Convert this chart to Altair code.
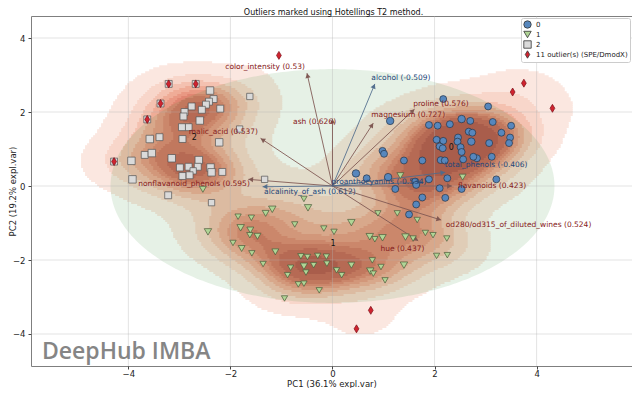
import math
import numpy as np
import pandas as pd
import altair as alt

alt.data_transformers.disable_max_rows()

# ---------------- text ----------------
TITLE = "Outliers marked using Hotellings T2 method."
X_TITLE = "PC1 (36.1% expl.var)"
Y_TITLE = "PC2 (19.2% expl.var)"
WATERMARK = "DeepHub IMBA"
TICKS = [-4, -2, 0, 2, 4]
GROUPS = ["0", "1", "2", "11 outlier(s) (SPE/DmodX)"]

# ---------------- class 0 (circles) ----------------
c0_x = [2.17, 3.05, 1.13, 2.53, 1.89, 2.06, 2.30, 2.70, 3.14, 3.50,
        3.31, 3.48, 3.46, 2.67, 2.74, 2.46, 2.72, 2.45, 2.04, 2.17,
        2.10, 2.16, 2.51, 2.53, 3.07, 2.83, 2.76, 3.12, 2.56, 0.98,
        1.01, 1.40, 1.76, 2.12, 2.20, 0.46, 0.67, 1.09, 1.62, 1.89,
        1.23, 2.25, 2.10, 2.53, 3.21, 2.21, 1.76, 1.64, 1.50, 1.64]
c0_y = [2.35, 2.15, 1.76, 1.81, 1.65, 1.63, 1.67, 1.76, 1.73, 1.63,
        1.44, 1.31, 1.16, 1.47, 1.44, 1.31, 1.20, 1.20, 1.25, 1.22,
        1.07, 1.02, 1.05, 0.92, 1.16, 0.75, 0.79, 0.79, 0.72, 0.95,
        0.87, 0.69, 0.69, 0.70, 0.69, 0.34, 0.21, 0.24, 0.12, 0.18,
        -0.08, 0.21, -0.06, -0.08, 0.18, -0.32, -0.31, -0.50, -0.77, 0.03]
c0_w = [2, 2, 3, 3, 2, 2, 2, 2, 2, 2,
        2, 2, 2, 2, 2, 2, 3, 2, 2, 2,
        2, 2, 2, 2, 2, 2, 2, 2, 2, 2,
        2, 2, 2, 2, 2, 3, 2, 3, 2, 2,
        2, 2, 2, 2, 2, 2, 2, 2, 2, 2]

# ---------------- class 1 (triangles) ----------------
c1_x = [-2.54, -2.44, -1.85, -1.59, -1.80, -1.61, -1.62, -1.47, -1.95, -1.78,
        -1.58, -1.36, -1.12, -1.31, -1.18, -0.74, -0.48, -0.56, -0.17, -0.88,
        -0.82, -0.67, -0.56, -0.94, -0.26, -0.62, -0.49, -0.29, -0.12, -0.56,
        -0.52, -0.37, -0.11, 0.03, 0.37, 0.89, 1.27, 1.66, 0.73, 0.83,
        0.98, 1.43, 1.58, 1.82, 1.97, 2.24, 2.04, 2.25, 0.78, 0.95,
        0.74, 0.80, 1.03, 1.40, 0.37, 0.08, 0.18, 1.33, 2.55]
c1_y = [-0.09, -1.24, -0.83, -0.86, -1.13, -1.19, -1.33, -1.36, -1.54, -1.69,
        -1.82, -2.11, -1.78, -0.74, -0.63, -1.04, -0.59, -0.35, -1.15, -2.41,
        -2.21, -2.66, -2.64, -3.04, -2.82, -1.90, -1.92, -1.89, -1.91, -2.17,
        -2.34, -2.14, -2.10, -1.24, -0.99, -0.74, -0.74, -0.92, -1.37, -1.44,
        -1.40, -1.38, -1.42, -1.27, -1.33, -1.42, -1.89, -1.87, -2.01, -2.19,
        -2.30, -2.37, -2.55, -2.14, -2.14, -2.28, -2.41, 0.28, 0.24]
c1_w = [2, 3, 1, 1, 3, 2, 1, 2, 1, 2,
        1, 1, 2, 2, 3, 1, 3, 1, 1, 1,
        1, 1, 1, 1, 1, 1, 1, 1, 1, 3,
        1, 1, 1, 1, 3, 1, 1, 1, 3, 1,
        3, 3, 1, 1, 1, 1, 1, 1, 1, 1,
        3, 1, 1, 3, 2, 1, 1, 2, 2]

# ---------------- class 2 (squares) ----------------
c2_x = [-2.40, -2.33, -2.42, -2.48, -2.56, -2.76, -2.90, -2.92, -2.20, -2.60,
        -2.82, -2.95, -2.94, -3.58, -3.39, -2.22, -1.62, -1.82, -3.68, -3.54,
        -3.94, -3.15, -2.62, -2.64, -2.82, -2.99, -2.39, -2.73, -2.94, -2.80,
        -2.37, -2.16, -3.92, -3.22, -2.37, -1.33, -3.21, -2.68, -3.37, -3.63, -4.28]
c2_y = [2.58, 2.35, 2.28, 2.20, 2.06, 2.15, 2.00, 1.88, 2.09, 1.77,
        1.59, 1.59, 1.27, 1.27, 1.32, 1.18, 2.42, 1.54, 0.84, 0.89,
        0.68, 0.75, 0.70, 0.52, 0.52, 0.50, 0.50, 0.41, 0.27, 0.29,
        0.37, 0.38, 0.18, -0.25, -0.45, 0.18, 2.76, 2.76, 2.23, 1.80, 0.66]
c2_w = [3, 2, 2, 2, 2, 2, 2, 2, 2, 3,
        2, 2, 2, 3, 2, 3, 1, 1, 2, 3,
        3, 3, 3, 2, 2, 2, 3, 1, 2, 2,
        3, 2, 3, 2, 1, 1, 2, 2, 2, 2, 2]

# ---------------- outliers ----------------
out_x = [-1.05, -3.21, -2.68, -3.37, -3.63, -4.28, 3.53, 3.75, 4.31, 0.75, 0.47]
out_y = [3.53, 2.76, 2.76, 2.23, 1.80, 0.66, 2.54, 2.78, 2.10, -3.36, -3.86]

# ---------------- loadings (arrows) ----------------
feat_label = ["color_intensity (0.53)", "alcohol (-0.509)", "proline (0.576)",
              "magnesium (0.727)", "ash (0.626)", "malic_acid (0.537)",
              "nonflavanoid_phenols (0.595)", "alcalinity_of_ash (0.612)",
              "proanthocyanins (-0.534)", "total_phenols (-0.406)",
              "flavanoids (0.423)", "od280/od315_of_diluted_wines (0.524)",
              "hue (0.437)"]
feat_tip_x = [-0.50, 0.83, 1.61, 0.80, 0.00, -1.41, -1.65, -1.37, 1.78, 2.21, 2.34, 2.13, 1.68]
feat_tip_y = [3.05, 2.76, 2.08, 1.70, 1.82, 1.29, 0.18, -0.02, 0.10, 0.37, 0.00, -0.92, -1.48]
feat_lab_x = [-0.54, 0.76, 1.58, 0.76, 0.07, -1.46, -1.62, -1.34, -0.02, 2.20, 2.46, 2.22, 1.80]
feat_lab_y = [3.21, 2.92, 2.23, 1.92, 1.72, 1.45, 0.06, -0.17, 0.12, 0.57, 0.00, -1.06, -1.71]
feat_side = ["right", "left", "left", "left", "right", "right", "right", "left",
             "left", "left", "left", "left", "right"]
feat_grp = ["r", "b", "r", "r", "r", "r", "r", "b", "b", "b", "r", "r", "r"]

cent_lab = ["0", "1", "2"]
cent_x = [2.33, 0.01, -2.71]
cent_y = [1.02, -1.58, 1.31]

# SPE/DmodX ellipse (center, semi-axes)
ell_cx, ell_cy, ell_a, ell_b = 0.0, 0.0, 4.35, 3.16

# ---------------- layout ----------------
W, H = 601, 350
XD = [-5.908, 5.869]
YD = [-4.865, 4.595]
SX = W / (XD[1] - XD[0])
SY = H / (YD[1] - YD[0])
FONT = "DejaVu Sans"

xs = alt.Scale(domain=XD, nice=False, zero=False)
ys = alt.Scale(domain=YD, nice=False, zero=False)

# ---------------- KDE (filled iso-proportion levels) ----------------
allx = np.array(c0_x + c1_x + c2_x[:36] + out_x)
ally = np.array(c0_y + c1_y + c2_y[:36] + out_y)
BW = 0.28
cov = np.cov(np.vstack([allx, ally])) * BW ** 2
inv = np.linalg.inv(cov)
nx, ny = 300, 175
xe = np.linspace(XD[0], XD[1], nx + 1)
ye = np.linspace(YD[0], YD[1], ny + 1)
xc = (xe[:-1] + xe[1:]) / 2
yc = (ye[:-1] + ye[1:]) / 2
GX, GY = np.meshgrid(xc, yc)
dens = np.zeros_like(GX)
for px, py in zip(allx, ally):
    dx = GX - px
    dy = GY - py
    dens += np.exp(-0.5 * (inv[0, 0] * dx * dx + 2 * inv[0, 1] * dx * dy + inv[1, 1] * dy * dy))
vals = dens.ravel()
sv = np.sort(vals)[::-1]
cum = np.cumsum(sv) / sv.sum()
props = np.linspace(0.05, 1, 10)
idx = np.clip(np.searchsorted(cum, 1 - props), 0, len(sv) - 1)
levels = sv[idx]
band = np.searchsorted(levels, dens, side="right") - 1
band = np.minimum(band, len(levels) - 2)

# band colours (Reds-like ramp, already blended on white)
BAND_COL = ["#fbe7e0", "#f8d6ca", "#f4c1b0", "#efac97", "#e99883",
            "#e08672", "#d57463", "#c86458", "#b9554e"]

ox = 0.4 * (xe[1] - xe[0])
oy = 0.4 * (ye[1] - ye[0])
rows = []
for j in range(ny):
    b = band[j]
    i = 0
    while i < nx:
        if b[i] < 0:
            i += 1
            continue
        k = i
        while k + 1 < nx and b[k + 1] == b[i]:
            k += 1
        rows.append({"x": round(xe[i], 4), "x2": round(xe[k + 1] + ox, 4),
                     "y": round(ye[j], 4), "y2": round(ye[j + 1] + oy, 4),
                     "c": BAND_COL[b[i]]})
        i = k + 1
kde_df = pd.DataFrame(rows)

# ellipse outline
tp = np.linspace(0, math.pi, 181)[::-1]
ell_df = pd.DataFrame({"ex": ell_cx + ell_a * np.cos(tp),
                       "ey1": ell_cy + ell_b * np.sin(tp),
                       "ey2": ell_cy - ell_b * np.sin(tp)})

# arrows
arr = pd.DataFrame({"label": feat_label, "tx": feat_tip_x, "ty": feat_tip_y,
                    "lx": feat_lab_x, "ly": feat_lab_y, "side": feat_side,
                    "grp": feat_grp})
arr["ox"] = 0.0
arr["oy"] = 0.0
pdx = arr["tx"] * SX
pdy = arr["ty"] * SY
L = np.sqrt(pdx ** 2 + pdy ** 2)
arr["hx"] = arr["tx"] - 2.5 * (pdx / L) / SX
arr["hy"] = arr["ty"] - 2.5 * (pdy / L) / SY
arr["ang"] = (np.degrees(np.arctan2(pdx, pdy)) + 360) % 360

# points (w = marker size class; 4 = outlier marker)
df0 = pd.DataFrame({"x": c0_x, "y": c0_y, "w": c0_w, "grp": "0"})
df1 = pd.DataFrame({"x": c1_x, "y": c1_y, "w": c1_w, "grp": "1"})
df2 = pd.DataFrame({"x": c2_x, "y": c2_y, "w": c2_w, "grp": "2"})
dfo = pd.DataFrame({"x": out_x, "y": out_y, "w": 4, "grp": GROUPS[3]})
cent_df = pd.DataFrame({"t": cent_lab, "x": cent_x, "y": cent_y})

COLORS = ["#5787bd", "#b0d596", "#dadada", "#d0232f"]
THIN_DIAMOND = "M0,-1L0.6,0L0,1L-0.6,0Z"
SHAPES = ["circle", "triangle-down", "square", THIN_DIAMOND]

leg = alt.Legend(title=None, orient="top-right", offset=2, padding=2,
                 fillColor="white", strokeColor="#cccccc", cornerRadius=2,
                 labelFontSize=7, labelFont=FONT, labelColor="#222",
                 symbolSize=55, symbolStrokeWidth=0.8, symbolStrokeColor="#333",
                 rowPadding=-1.5, labelOffset=4, labelLimit=220)
color_enc = alt.Color("grp:N", scale=alt.Scale(domain=GROUPS, range=COLORS), legend=leg)
shape_enc = alt.Shape("grp:N", scale=alt.Scale(domain=GROUPS, range=SHAPES), legend=leg)
size_enc = alt.Size("w:O", scale=alt.Scale(domain=[1, 2, 3, 4], range=[40, 64, 120, 95]), legend=None)

minus_expr = "datum.value < 0 ? '\u2212' + format(-datum.value, 'd') : format(datum.value, 'd')"
x_axis = alt.Axis(values=TICKS, title=X_TITLE, grid=False, domain=False,
                  tickSize=3, tickColor="#444", labelFontSize=8.5, labelFont=FONT,
                  labelColor="#222", labelPadding=0, titleFontSize=8.5,
                  titleFont=FONT, titleFontWeight="normal", titleColor="#222",
                  titleY=20.5, titleBaseline="alphabetic", labelExpr=minus_expr)
y_axis = alt.Axis(values=TICKS, title=Y_TITLE, grid=False, domain=False,
                  tickSize=3, tickColor="#444", labelFontSize=8.5, labelFont=FONT,
                  labelColor="#222", labelPadding=3, titleFontSize=8.5,
                  titleFont=FONT, titleFontWeight="normal", titleColor="#222",
                  titleX=-18.5, titleY=H / 2, titleBaseline="middle",
                  labelExpr=minus_expr)


def X(f):
    return alt.X(f, scale=xs, axis=x_axis)


def Y(f):
    return alt.Y(f, scale=ys, axis=y_axis)


kde = alt.Chart(kde_df).mark_rect().encode(
    x=X("x:Q"), x2="x2:Q", y=Y("y:Q"), y2="y2:Q",
    fill=alt.Fill("c:N", scale=None))

ell = alt.Chart(ell_df).mark_area(color="#3c8f3c", opacity=0.13).encode(
    x=X("ex:Q"), y=Y("ey1:Q"), y2="ey2:Q")

tick_df = pd.DataFrame({"v": TICKS})
vgrid = alt.Chart(tick_df).mark_rule(color="#b0b0b0", opacity=0.45, strokeWidth=0.8).encode(x=X("v:Q"))
hgrid = alt.Chart(tick_df).mark_rule(color="#b0b0b0", opacity=0.45, strokeWidth=0.8).encode(y=Y("v:Q"))

ARR_COL = {"r": "#7d5550", "b": "#4f6b8c"}
TXT_COL = {"r": "#862020", "b": "#23467a"}

arrow_layers = []
for g in ["r", "b"]:
    sub = arr[arr["grp"] == g]
    arrow_layers.append(alt.Chart(sub).mark_rule(color=ARR_COL[g], strokeWidth=1, opacity=0.85).encode(
        x=X("ox:Q"), y=Y("oy:Q"), x2="tx:Q", y2="ty:Q"))
    arrow_layers.append(alt.Chart(sub).mark_point(shape="triangle-up", filled=True, size=28,
                                                  opacity=0.95, color=ARR_COL[g]).encode(
        x=X("hx:Q"), y=Y("hy:Q"), angle=alt.Angle("ang:Q", scale=None)))

pts0 = alt.Chart(df0).mark_point(filled=True, opacity=1, stroke="#243447", strokeWidth=0.7).encode(
    x=X("x:Q"), y=Y("y:Q"), color=color_enc, shape=shape_enc, size=size_enc)
pts1 = alt.Chart(df1).mark_point(filled=True, opacity=1, stroke="#4a5a3a", strokeWidth=0.7).encode(
    x=X("x:Q"), y=Y("y:Q"), color=color_enc, shape=shape_enc, size=size_enc)
pts2 = alt.Chart(df2).mark_point(filled=True, opacity=1, stroke="#555555", strokeWidth=0.7).encode(
    x=X("x:Q"), y=Y("y:Q"), color=color_enc, shape=shape_enc, size=size_enc)
ptso = alt.Chart(dfo).mark_point(filled=True, opacity=1, stroke="#7a0f17", strokeWidth=0.7).encode(
    x=X("x:Q"), y=Y("y:Q"), color=color_enc, shape=shape_enc, size=size_enc)

text_layers = []
for g in ["r", "b"]:
    for side in ["left", "right"]:
        sub = arr[(arr["grp"] == g) & (arr["side"] == side)]
        if len(sub) == 0:
            continue
        text_layers.append(alt.Chart(sub).mark_text(
            align=side, baseline="middle", font=FONT, fontSize=7.5, color=TXT_COL[g]).encode(
            x=X("lx:Q"), y=Y("ly:Q"), text="label:N"))

cent = alt.Chart(cent_df).mark_text(font=FONT, fontSize=8, color="#111", baseline="middle").encode(
    x=X("x:Q"), y=Y("y:Q"), text="t:N")

wm = alt.Chart(pd.DataFrame({"t": [WATERMARK]})).mark_text(
    font="Open Sans", fontWeight=600, fontSize=23, color="#858585", align="left",
    baseline="alphabetic").encode(x=alt.value(11), y=alt.value(343), text="t:N")

title = alt.Chart(pd.DataFrame({"t": [TITLE]})).mark_text(
    font=FONT, fontSize=8, color="#111", align="center", baseline="alphabetic").encode(
    x=alt.value(W / 2 + 2), y=alt.value(-1.5), text="t:N")

chart = alt.layer(kde, ell, vgrid, hgrid, *arrow_layers, pts0, pts1, pts2, ptso,
                  *text_layers, cent, wm, title).properties(
    width=W, height=H,
    autosize=alt.AutoSizeParams(type="none"),
    padding={"left": 23, "top": 8, "right": 0, "bottom": 22},
    background="white",
).configure_view(stroke="#7f7f7f", strokeWidth=1)

chart.save("out.html", embed_options={"renderer": "svg", "actions": False})
